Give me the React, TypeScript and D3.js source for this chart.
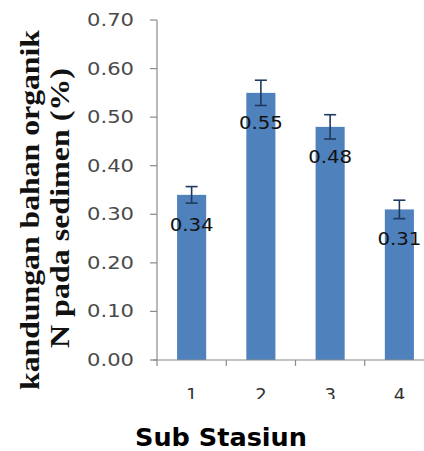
import React from "react";
import * as d3 from "d3";

const categories = ["1", "2", "3", "4"];
const values = [0.34, 0.55, 0.48, 0.31];
const errors = [0.017, 0.026, 0.025, 0.019];
const valueLabels = ["0.34", "0.55", "0.48", "0.31"];
const yTicks = [0, 0.1, 0.2, 0.3, 0.4, 0.5, 0.6, 0.7];
const yTitleLines = ["kandungan bahan organik", "N pada sedimen (%)"];
const xTitle = "Sub Stasiun";

const W = 424;
const H = 451;

export default function App() {
  const x = d3
    .scaleBand<string>()
    .domain(categories)
    .range([157, 434])
    .paddingInner(0.58)
    .paddingOuter(0.29);
  const step = x.step();
  const y = d3.scaleLinear().domain([0, 0.7]).range([360, 20]);
  const bw = x.bandwidth();

  return (
    <svg
      width={W}
      height={H}
      style={{ position: "absolute", left: 0, top: 0, background: "#fff" }}
    >
      <defs>
        <clipPath id="xlab">
          <rect x={0} y={0} width={W} height={399} />
        </clipPath>
        <clipPath id="ytop">
          <rect x={0} y={13} width={W} height={H} />
        </clipPath>
      </defs>
      {/* bars */}
      {categories.map((c, i) => (
        <rect
          key={c}
          x={x(c)}
          y={y(values[i])}
          width={bw}
          height={y(0) - y(values[i])}
          fill="#4F81BD"
        />
      ))}
      {/* error bars */}
      {categories.map((c, i) => {
        const cx = (x(c) as number) + bw / 2;
        const top = y(values[i] + errors[i]);
        const bot = y(values[i] - errors[i]);
        return (
          <g key={"e" + c} stroke="#1F3A5F" strokeWidth={1.6}>
            <line x1={cx} x2={cx} y1={top} y2={bot} />
            <line x1={cx - 6} x2={cx + 6} y1={top} y2={top} />
            <line x1={cx - 6} x2={cx + 6} y1={bot} y2={bot} />
          </g>
        );
      })}
      {/* data labels */}
      {categories.map((c, i) => (
        <text
          key={"l" + c}
          x={(x(c) as number) + bw / 2}
          y={y(values[i]) + 36}
          textAnchor="middle"
          fontFamily="DejaVu Sans"
          fontSize={17}
          fill="#111"
          textLength={44}
          lengthAdjust="spacingAndGlyphs"
        >
          {valueLabels[i]}
        </text>
      ))}
      {/* y axis */}
      <line x1={157} x2={157} y1={y(0.7)} y2={y(0)} stroke="#8a8a8a" strokeWidth={1.2} />
      <g clipPath="url(#ytop)">
        {yTicks.map((t) => (
          <g key={"t" + t}>
            <line x1={150} x2={157} y1={y(t)} y2={y(t)} stroke="#8a8a8a" strokeWidth={1.2} />
            <text
              x={134}
              y={y(t) + 6}
              textAnchor="end"
              fontFamily="DejaVu Sans"
              fontSize={17}
              fill="#4a4a4a"
              textLength={47}
              lengthAdjust="spacingAndGlyphs"
            >
              {t.toFixed(2)}
            </text>
          </g>
        ))}
      </g>
      {/* x axis */}
      <line x1={153} x2={W} y1={y(0)} y2={y(0)} stroke="#8a8a8a" strokeWidth={1.2} />
      {categories.map((c, i) => (
        <line
          key={"xt" + c}
          x1={157 + step * i}
          x2={157 + step * i}
          y1={y(0)}
          y2={y(0) + 6}
          stroke="#8a8a8a"
          strokeWidth={1.2}
        />
      ))}
      <g clipPath="url(#xlab)">
        {categories.map((c) => (
          <text
            key={"xl" + c}
            x={(x(c) as number) + bw / 2}
            y={401}
            textAnchor="middle"
            fontFamily="DejaVu Sans"
            fontSize={18}
            fill="#333"
          >
            {c}
          </text>
        ))}
      </g>
      {/* y title */}
      <text
        transform="translate(39,210) rotate(-90)"
        textAnchor="middle"
        fontFamily="Liberation Serif"
        fontWeight="bold"
        fontSize={27}
        fill="#111"
        textLength={360}
        lengthAdjust="spacingAndGlyphs"
      >
        {yTitleLines[0]}
      </text>
      <text
        transform="translate(69,208) rotate(-90)"
        textAnchor="middle"
        fontFamily="Liberation Serif"
        fontWeight="bold"
        fontSize={27}
        fill="#111"
        textLength={280}
        lengthAdjust="spacingAndGlyphs"
      >
        {yTitleLines[1]}
      </text>
      {/* x title */}
      <text
        x={221}
        y={446}
        textAnchor="middle"
        fontFamily="DejaVu Sans"
        fontWeight="bold"
        fontSize={24}
        fill="#000"
        textLength={172}
        lengthAdjust="spacingAndGlyphs"
      >
        {xTitle}
      </text>
    </svg>
  );
}
